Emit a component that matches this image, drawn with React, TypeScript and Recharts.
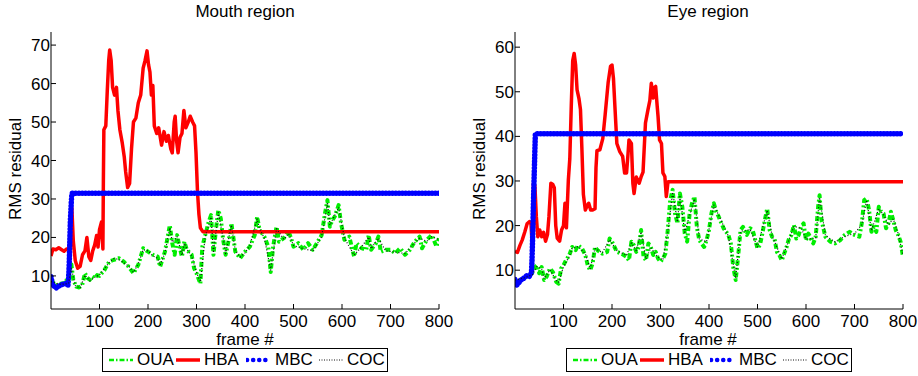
import React from 'react';
import { LineChart, Line, XAxis, YAxis } from 'recharts';

type Pt = [number, number];

const frameTicks = [100, 200, 300, 400, 500, 600, 700, 800];
const mouthTicks = [10, 20, 30, 40, 50, 60, 70];
const eyeTicks = [10, 20, 30, 40, 50, 60];
const seriesNames = ['OUA', 'HBA', 'MBC', 'COC'];

// Mouth region, [frame, rms]
const mouthOUA: Pt[] = [
  [0, 9], [10, 7.5], [20, 8], [30, 8.2], [38, 11], [42, 13], [46, 9], [52, 7.2], [58, 7], [64, 7.5],
  [70, 10.7], [75, 9.5], [80, 9], [85, 9.8], [90, 9.4], [95, 10.2], [100, 10], [110, 11.5], [120, 13.7],
  [130, 14.2], [140, 14.6], [150, 13.7], [160, 12.4], [170, 10.7], [180, 12.9], [190, 17.2], [200, 16.3],
  [210, 15.5], [220, 15], [225, 12.4], [235, 16.3], [245, 23.2], [250, 18.5], [255, 15.5], [260, 20.6],
  [265, 17.6], [270, 15], [275, 18.9], [280, 16.8], [290, 15.5], [295, 12], [300, 10.7], [305, 9], [308, 8],
  [312, 17.6], [318, 20.6], [325, 24], [330, 25.8], [335, 15.5], [340, 22], [345, 27.1], [350, 25],
  [355, 19.4], [360, 15.5], [368, 20.2], [372, 23.7], [380, 16.3], [390, 14.6], [400, 16.3], [410, 17.6],
  [420, 20.6], [425, 25.4], [430, 22], [440, 20.2], [448, 17.6], [453, 11], [458, 17.6], [465, 22.8],
  [470, 18.9], [480, 19.8], [490, 21.5], [495, 19.8], [500, 17.6], [510, 18.5], [520, 16.8], [530, 18.5],
  [540, 16.8], [550, 18.9], [558, 20.6], [565, 26.3], [570, 29.7], [575, 22.8], [580, 24.5], [585, 25.4],
  [593, 28.4], [598, 23.7], [605, 19.4], [615, 20.2], [625, 15], [630, 18.5], [640, 17.2], [650, 16.8],
  [655, 20.6], [660, 16.8], [670, 18.5], [675, 20.2], [680, 16.3], [690, 16.8], [700, 16.8], [710, 15.9],
  [720, 17.2], [730, 15.5], [740, 16.8], [750, 18.9], [760, 20.2], [765, 17.2], [775, 19.4], [785, 20.6],
  [795, 17.6], [800, 19.8],
];
const mouthHBA: Pt[] = [
  [0, 15.2], [4, 17], [10, 16.8], [16, 17.3], [22, 16.8], [27, 16.4], [32, 17], [37, 17], [40, 20], [43, 27.7],
  [46, 19], [50, 14], [55, 12], [60, 12.5], [65, 15.5], [70, 16.5], [74, 20], [78, 15], [82, 14], [86, 16.5],
  [90, 18], [94, 20.5], [97, 17.5], [100, 22], [104, 24], [107, 17], [108, 35], [109, 48], [113, 49],
  [116, 58], [119, 66], [121, 68.7], [124, 66], [127, 59], [131, 57], [135, 59], [138, 53], [142, 48],
  [147, 44.5], [151, 41], [154, 37], [158, 33], [162, 34], [166, 43], [170, 50], [175, 51], [180, 55],
  [185, 57], [190, 64], [194, 66], [198, 68.5], [201, 65], [204, 63], [207, 57], [210, 59.5], [213, 49],
  [218, 47], [222, 48.5], [228, 44], [233, 47.5], [238, 45], [242, 46.5], [247, 43], [250, 42], [254, 50],
  [256, 51.5], [259, 45], [262, 42], [266, 46], [270, 47], [274, 53], [278, 48.5], [283, 50], [287, 51.5],
  [292, 50], [296, 49], [299, 42], [302, 32], [305, 26], [308, 22.5], [313, 21.5], [800, 21.5],
];
const mouthMBC: Pt[] = [
  [0, 9.8], [3, 7.8], [7, 7.2], [11, 6.9], [15, 7.3], [20, 7.6], [25, 7.9], [30, 8], [35, 7.6], [37, 11],
  [38, 15], [39, 20], [40, 24.5], [41, 27], [42, 29.5], [43, 31.5], [800, 31.5],
];
const mouthCOC: Pt[] = [
  [0, 8.5], [20, 7.8], [36, 8], [42, 12], [50, 7.5], [60, 6.8], [70, 10.2], [80, 8.7], [90, 9.6], [100, 10.3],
  [110, 11.8], [120, 13.5], [130, 14.5], [140, 14.3], [150, 13.4], [160, 12.6], [170, 10.9], [180, 13.2],
  [190, 16.8], [200, 16.5], [210, 15.2], [220, 14.6], [225, 12.8], [235, 16], [245, 22.5], [250, 18.8],
  [260, 20.2], [270, 15.4], [275, 18.5], [280, 17], [290, 15.2], [300, 10.9], [308, 8.4], [318, 20.2],
  [330, 25.3], [335, 16], [345, 26.5], [355, 19.8], [360, 15.8], [372, 23.2], [380, 16.6], [390, 14.9],
  [400, 16], [410, 17.9], [425, 24.8], [430, 22.3], [440, 19.8], [453, 11.5], [465, 22.3], [480, 19.5],
  [490, 21], [500, 17.9], [520, 17.1], [540, 16.5], [558, 20.2], [570, 29], [575, 23.2], [593, 27.8],
  [605, 19.8], [625, 15.4], [640, 17.5], [655, 20.1], [660, 17.1], [675, 19.8], [690, 16.5], [710, 16.2],
  [730, 15.8], [750, 18.6], [760, 19.8], [775, 19], [785, 20.2], [800, 19.4],
];

// Eye region, [frame, rms]
const eyeOUA: Pt[] = [
  [0, 7.5], [10, 7.5], [20, 8.5], [30, 8.8], [36, 9.5], [40, 10.5], [45, 11.1], [50, 9.3], [55, 10.7],
  [60, 7.8], [65, 8.5], [72, 10.4], [78, 9.6], [85, 7.4], [90, 7], [95, 10.4], [100, 11.1], [105, 12.2],
  [112, 13.4], [118, 15.2], [125, 14.5], [130, 15.6], [138, 14.9], [145, 13.4], [150, 11.1], [155, 10],
  [160, 11.5], [165, 15.2], [170, 14.5], [180, 13.7], [190, 14.1], [195, 17.1], [200, 16.4], [210, 14.1],
  [220, 13.7], [230, 13], [235, 12.2], [240, 16.4], [245, 15.6], [250, 14.1], [255, 15.2], [260, 19],
  [265, 13], [270, 12.2], [275, 16], [280, 15.2], [285, 13.4], [290, 14.1], [295, 12.6], [300, 11.9],
  [305, 12.6], [310, 13.7], [315, 19], [320, 25.7], [325, 28], [330, 22.7], [335, 20.5], [340, 27.2],
  [345, 24.2], [350, 18.2], [355, 16.4], [360, 22.7], [365, 25], [370, 26.5], [375, 19.7], [380, 16.7],
  [390, 15.2], [395, 16.7], [400, 19], [405, 22.7], [410, 25], [415, 23.1], [420, 22], [430, 19.4],
  [440, 17.9], [445, 16], [450, 10.7], [455, 7.8], [460, 13], [465, 19], [470, 19.7], [478, 17.9],
  [485, 19.4], [490, 19], [500, 14.9], [505, 15.6], [510, 18.2], [515, 21.2], [520, 23.8], [525, 19],
  [530, 17.5], [535, 17.1], [540, 14.1], [545, 13.4], [550, 12.2], [555, 13.7], [560, 15.2], [565, 17.1],
  [570, 17.9], [575, 20.1], [580, 17.1], [585, 17.9], [590, 19.7], [595, 20.5], [600, 16.7], [605, 18.2],
  [610, 17.1], [615, 16], [620, 17.5], [625, 24.2], [628, 26.8], [632, 21.2], [640, 17.5], [650, 16.4],
  [660, 16], [670, 16.7], [680, 17.9], [690, 18.6], [700, 17.9], [710, 17.5], [715, 20.5], [720, 25.7],
  [725, 26.1], [730, 23.5], [735, 18.6], [740, 19.7], [745, 18.6], [750, 24.2], [755, 23.1], [760, 22.7],
  [765, 19.4], [770, 20.5], [775, 23.1], [780, 21.2], [785, 19], [790, 17.9], [795, 16.4], [800, 13],
];
const eyeHBA: Pt[] = [
  [0, 14.2], [5, 14], [10, 15.5], [15, 16.8], [20, 18.5], [25, 20.4], [30, 20.9], [33, 20.3], [35, 16.5],
  [37, 17], [38, 29.5], [41, 29], [44, 22], [47, 17.5], [51, 19], [55, 17.5], [59, 18.5], [63, 16.5],
  [67, 18], [70, 22], [74, 29.5], [78, 29.2], [81, 28.5], [84, 20], [87, 17.2], [92, 16.5], [96, 19],
  [100, 20], [103, 25], [106, 19.5], [110, 30.2], [113, 35], [116, 46.7], [119, 57], [122, 58.6], [125, 56],
  [128, 50.4], [132, 48.4], [135, 46], [138, 37], [141, 27], [145, 23.5], [149, 24.5], [152, 25],
  [156, 23.5], [160, 23.5], [165, 23.8], [167, 33], [169, 36.8], [175, 37], [181, 39.5], [186, 45],
  [192, 52], [197, 55.7], [200, 56], [203, 53], [206, 46.7], [210, 38.4], [216, 36.6], [222, 35.5],
  [226, 31.8], [230, 31.8], [233, 36], [235, 39.2], [240, 38.4], [243, 29.5], [245.5, 27.2], [250, 30.9],
  [256, 29.5], [260, 30.9], [264, 32], [269, 43], [274, 45.9], [278, 48], [281, 51.9], [285, 48.6],
  [288, 51], [290, 51.2], [293, 47], [295, 44.4], [298, 39.2], [302, 38.4], [305, 31.8], [309, 31],
  [312, 26.5], [315.5, 29.8], [800, 29.8],
];
const eyeMBC: Pt[] = [
  [0, 7.9], [3, 6.6], [8, 7.2], [12, 7.8], [16, 8], [20, 8.4], [25, 8.8], [29, 8.6], [32, 9], [34, 9.5],
  [35, 12], [36, 16], [37, 20], [38, 25], [39, 29], [40, 33], [41, 37], [42, 40.6], [800, 40.6],
];
const eyeCOC: Pt[] = [
  [0, 7.8], [20, 8.3], [36, 9], [45, 10.8], [55, 10.4], [60, 8.1], [72, 10.1], [85, 7.7], [90, 7.3],
  [100, 10.8], [112, 13.1], [118, 14.9], [130, 15.3], [145, 13.7], [155, 10.3], [165, 14.9], [180, 13.9],
  [195, 16.8], [210, 14.4], [230, 13.3], [240, 16.1], [250, 14.4], [260, 18.6], [270, 12.5], [280, 15],
  [295, 12.9], [305, 12.3], [315, 18.6], [325, 27.5], [335, 20.8], [340, 26.8], [350, 18.5], [360, 22.3],
  [370, 26], [380, 17], [395, 16.4], [410, 24.6], [420, 22.3], [440, 17.6], [455, 8.2], [465, 18.7],
  [485, 19.1], [500, 15.2], [520, 23.4], [530, 17.8], [550, 12.5], [565, 16.8], [575, 19.8], [590, 19.4],
  [600, 17], [620, 17.2], [628, 26.3], [640, 17.8], [660, 16.3], [680, 17.6], [700, 18.2], [715, 20.2],
  [725, 25.7], [735, 18.9], [750, 23.8], [760, 22.4], [770, 20.2], [780, 21.5], [790, 18.2], [800, 13.4],
];

const FONT = '"Liberation Sans", Arial, Helvetica, sans-serif';

const styles = [
  { stroke: '#00ee00', strokeWidth: 4, strokeDasharray: '5 2.5 2 2.5', legendDash: '5 2 1.5 2', legendWidth: 2.5 },
  { stroke: '#ff0000', strokeWidth: 3.5, strokeDasharray: undefined, legendDash: undefined, legendWidth: 3.5 },
  { stroke: '#0000ff', strokeWidth: 5.5, strokeDasharray: '0.1 3.2', legendDash: '0.1 6', legendWidth: 4.5 },
  { stroke: '#111111', strokeWidth: 1.2, strokeDasharray: '1 2', legendDash: '1 1.5', legendWidth: 1.2 },
];

const toPts = (arr: Pt[]) => arr.map(([f, v]) => ({ f, v }));

function LegendBox({ left }: { left: number }) {
  const offsets = [5, 72, 143, 215];
  return (
    <div style={{ position: 'absolute', left, top: 348, width: 286, height: 24, border: '1px solid #000', boxSizing: 'border-box', background: '#fff' }}>
      {seriesNames.map((name, i) => (
        <div key={name} style={{ position: 'absolute', left: offsets[i], top: 0, height: 22, display: 'flex', alignItems: 'center' }}>
          <svg width={26} height={10} style={{ marginRight: 3 }}>
            <line x1={1} y1={5} x2={25} y2={5} stroke={styles[i].stroke} strokeWidth={styles[i].legendWidth}
              strokeDasharray={styles[i].legendDash} strokeLinecap={i === 2 ? 'round' : 'butt'} />
          </svg>
          <span style={{ fontSize: 17, lineHeight: '22px', color: '#000' }}>{name}</span>
        </div>
      ))}
    </div>
  );
}

interface PanelProps {
  left: number;
  width: number;
  marginLeft: number;
  marginRight: number;
  title: string;
  titleX: number;
  ylabelX: number;
  legendLeft: number;
  yTicks: number[];
  yDomain: [number, number];
  series: Pt[][];
}

function Panel({ left, width, marginLeft, marginRight, title, titleX, ylabelX, legendLeft, yTicks, yDomain, series }: PanelProps) {
  const tickStyle = { fontSize: 17, fill: '#000', fontFamily: FONT };
  return (
    <>
      <div style={{ position: 'absolute', left: titleX - 100, top: 1.5, width: 200, textAlign: 'center', fontSize: 17, lineHeight: '20px' }}>{title}</div>
      <div style={{ position: 'absolute', left: titleX - 100, top: 333, width: 200, textAlign: 'center', fontSize: 17, lineHeight: '14px' }}>frame #</div>
      <div style={{ position: 'absolute', left: ylabelX - 100, top: 159, width: 200, height: 20, textAlign: 'center', fontSize: 17, lineHeight: '20px', transform: 'rotate(-90deg)' }}>RMS residual</div>
      <div style={{ position: 'absolute', left, top: 0 }}>
        <LineChart width={width} height={376} margin={{ top: 32, right: marginRight, bottom: 37, left: marginLeft }}>
          <XAxis xAxisId="b" dataKey="f" type="number" domain={[0, 800]} ticks={frameTicks} allowDataOverflow
            tickSize={-5} tickMargin={10.5} height={30} stroke="#000" tick={tickStyle} interval={0} />
          <XAxis xAxisId="t" dataKey="f" type="number" domain={[0, 800]} ticks={frameTicks} allowDataOverflow
            orientation="top" tickSize={-5} height={0} stroke="#000" tick={false} interval={0} />
          <YAxis yAxisId="l" type="number" domain={yDomain} ticks={yTicks} allowDataOverflow
            tickSize={-5} tickMargin={6} width={40} stroke="#000" tick={tickStyle} interval={0} />
          <YAxis yAxisId="r" type="number" domain={yDomain} ticks={yTicks} allowDataOverflow
            orientation="right" tickSize={-5} width={0} stroke="#000" tick={false} interval={0} />
          {series.map((pts, i) => (
            <Line key={seriesNames[i]} xAxisId="b" yAxisId="l" data={toPts(pts)} dataKey="v" type="linear"
              stroke={styles[i].stroke} strokeWidth={styles[i].strokeWidth} strokeDasharray={styles[i].strokeDasharray}
              strokeLinecap={i === 2 ? 'round' : 'butt'} strokeLinejoin="round" dot={false} isAnimationActive={false} />
          ))}
        </LineChart>
      </div>
      <LegendBox left={legendLeft} />
    </>
  );
}

export default function App() {
  return (
    <div style={{ position: 'absolute', left: 0, top: 0, width: 918, height: 376, background: '#fff', fontFamily: FONT, color: '#000', overflow: 'hidden' }}>
      <Panel left={0} width={460} marginLeft={11} marginRight={21} title="Mouth region" titleX={245} ylabelX={15.6}
        legendLeft={102} yTicks={mouthTicks} yDomain={[1.4, 73.4]} series={[mouthOUA, mouthHBA, mouthMBC, mouthCOC]} />
      <Panel left={460} width={458} marginLeft={15} marginRight={15} title="Eye region" titleX={708} ylabelX={480}
        legendLeft={566} yTicks={eyeTicks} yDomain={[1.3, 63.4]} series={[eyeOUA, eyeHBA, eyeMBC, eyeCOC]} />
    </div>
  );
}
